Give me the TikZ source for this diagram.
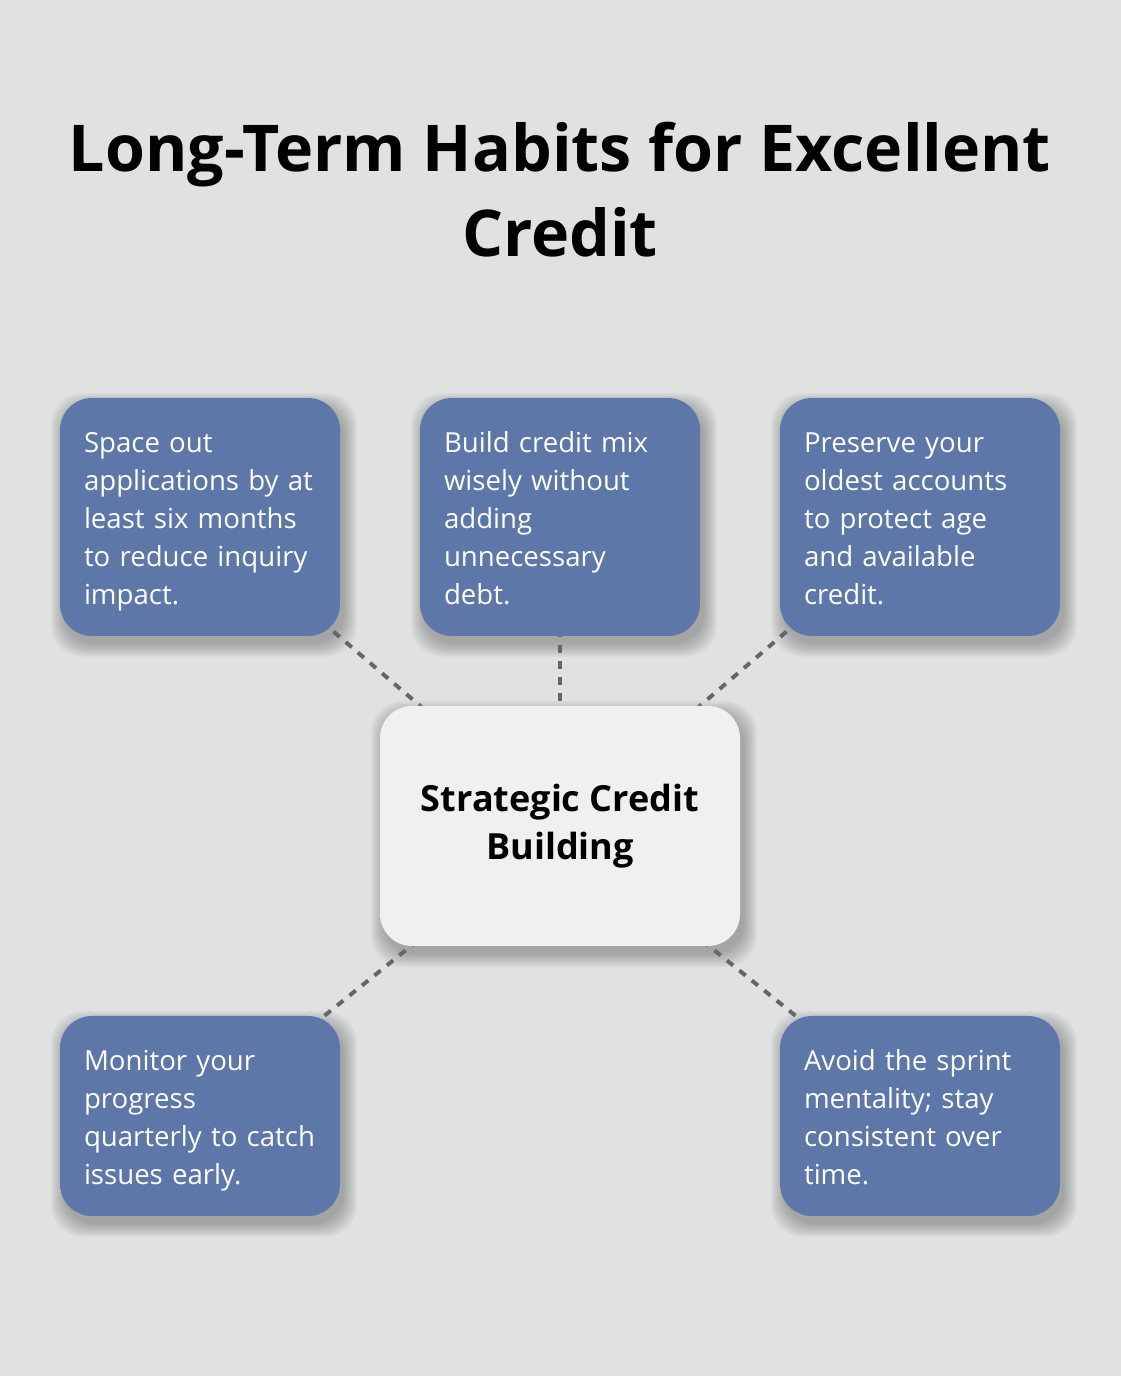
\documentclass[tikz,border=0pt]{standalone}
\usepackage{fontspec}
\setmainfont{Open Sans}
\usetikzlibrary{backgrounds}
\definecolor{bggray}{HTML}{E0E2E1}
\definecolor{habitblue}{HTML}{5C77A8}
\definecolor{corefill}{HTML}{EFF0F2}
\definecolor{linkgray}{HTML}{666666}

\begin{document}
\begin{tikzpicture}[x=0.75pt, y=0.75pt,
    habit/.style={rectangle, rounded corners=24pt, fill=habitblue, text=white,
        minimum width=210pt, minimum height=178.5pt, text width=174pt, inner xsep=18pt,
        align=left, font=\fontsize{20.7}{28.5}\selectfont,
        execute at begin node={\rule{0pt}{24pt}},
        execute at end node={\rule[-7pt]{0pt}{7pt}}},
    core/.style={rectangle, rounded corners=24pt, fill=corefill, text=black,
        minimum width=270pt, minimum height=180pt, align=center,
        font=\fontsize{27}{36}\selectfont\bfseries,
        execute at begin node={\rule{0pt}{28pt}}},
    softshadow/.style={fill=black, opacity=0.03},
    link/.style={draw=linkgray, line width=3pt, dash pattern=on 6pt off 6pt}
]
    \useasboundingbox (0,0) rectangle (1120,1376);

    \node[align=center, font=\fontsize{48.4}{63.75}\selectfont\bfseries] (title) at (560,1186)
        {Long-Term Habits for Excellent\\Credit};

    \node[habit] (h1) at (200,859) {Space out\\applications by at\\least six months\\to reduce inquiry\\impact.};
    \node[habit] (h2) at (560,859) {Build credit mix\\wisely without\\adding\\unnecessary\\debt.};
    \node[habit] (h3) at (920,859) {Preserve your\\oldest accounts\\to protect age\\and available\\credit.};
    \node[core] (c) at (560,550) {Strategic Credit\\Building};
    \node[habit, minimum height=150pt] (h4) at (200,260) {Monitor your\\progress\\quarterly to catch\\issues early.};
    \node[habit, minimum height=150pt] (h5) at (920,260) {Avoid the sprint\\mentality; stay\\consistent over\\time.};

    \begin{scope}[on background layer]
        \fill[bggray] (-20,-20) rectangle (1140,1396);
        % soft shadows below the boxes
        \foreach \n in {h1,h2,h3,h4,h5,c}
            \foreach \k in {0,...,8}
                \fill[softshadow, rounded corners=24pt]
                    ([xshift=3pt-\k*1.2pt, yshift=-6pt-\k*1.2pt]\n.south west) rectangle
                    ([xshift=3pt+\k*1.2pt, yshift=-6pt+\k*1.2pt]\n.north east);
        \draw[link] (h1.center) -- (c.center);
        \draw[link] (h2.center) -- (c.center);
        \draw[link] (h3.center) -- (c.center);
        \draw[link] (h4.center) -- (c.center);
        \draw[link] (h5.center) -- (c.center);
    \end{scope}
\end{tikzpicture}
\end{document}
